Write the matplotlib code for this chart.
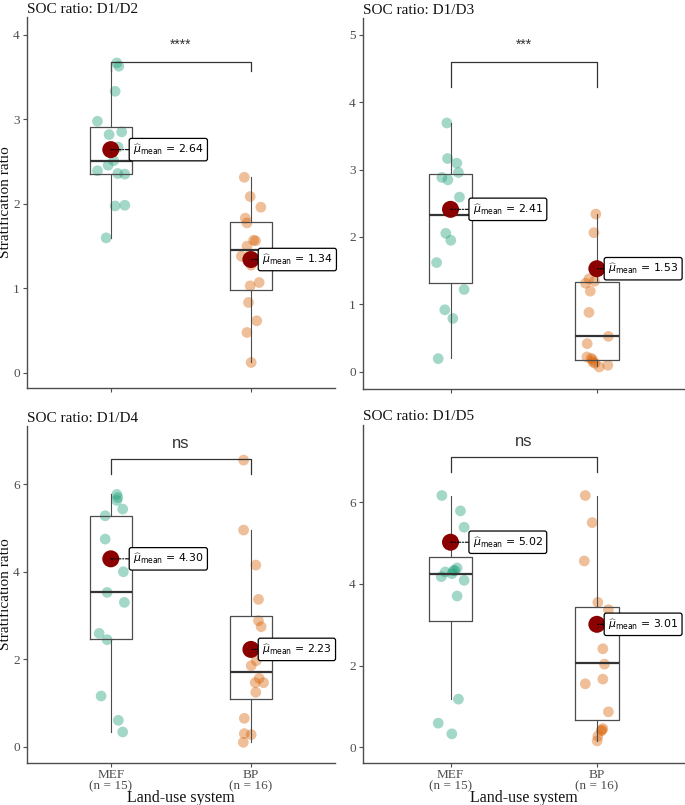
import numpy as np
import matplotlib
matplotlib.use("Agg")
import matplotlib.pyplot as plt

plt.rcParams['font.family'] = ['Liberation Serif', 'DejaVu Serif']
plt.rcParams['mathtext.fontset'] = 'dejavusans'

# ---- data ----
groups = ["MEF", "BP"]
group_n = [15, 16]
titles = ["SOC ratio: D1/D2", "SOC ratio: D1/D3", "SOC ratio: D1/D4", "SOC ratio: D1/D5"]
signif = ["****", "***", "ns", "ns"]

# D1/D2
d2_mef = [3.665, 3.626, 3.33, 2.975, 2.818, 2.85, 2.67, 2.51, 2.455, 2.39, 2.357, 2.35, 1.974, 1.982, 1.596]
d2_mef_jit = [0.043, 0.057, 0.031, -0.095, -0.012, 0.078, 0.052, 0.021, -0.019, -0.095, 0.05, 0.1, 0.031, 0.1, -0.033]
d2_bp = [2.313, 2.085, 1.959, 1.829, 1.773, 1.568, 1.561, 1.498, 1.379, 1.273, 1.029, 1.068, 0.832, 0.615, 0.477, 0.122]
d2_bp_jit = [-0.047, -0.005, 0.071, -0.04, -0.028, 0.019, 0.033, -0.028, -0.068, 0.002, -0.005, 0.059, -0.017, 0.042, -0.028, 0.002]

# D1/D3
d3_mef = [3.69, 3.163, 3.094, 2.956, 2.882, 2.847, 2.591, 2.40, 2.054, 1.951, 1.621, 1.222, 0.921, 0.793, 0.197]
d3_mef_jit = [-0.025, -0.02, 0.043, 0.054, -0.059, -0.018, 0.061, 0.0, -0.032, 0.002, -0.095, 0.093, -0.039, 0.016, -0.084]
d3_bp = [2.34, 2.064, 1.379, 1.345, 1.315, 1.197, 0.882, 0.527, 0.419, 0.222, 0.202, 0.18, 0.148, 0.128, 0.099, 0.074]
d3_bp_jit = [-0.007, -0.02, -0.054, -0.016, -0.077, -0.045, -0.054, 0.079, -0.066, -0.068, -0.039, -0.03, -0.027, -0.013, 0.075, 0.016]

# D1/D4
d4_mef = [5.772, 5.70, 5.635, 5.437, 5.284, 4.751, 4.30, 4.005, 3.533, 3.305, 2.596, 2.452, 1.165, 0.609, 0.343]
d4_mef_jit = [0.043, 0.05, 0.043, 0.085, -0.04, -0.04, 0.0, 0.09, -0.026, 0.097, -0.083, -0.026, -0.069, 0.054, 0.085]
d4_bp = [6.556, 4.957, 4.157, 3.373, 2.886, 2.749, 1.972, 1.858, 1.569, 1.47, 1.47, 1.249, 0.655, 0.305, 0.282, 0.107]
d4_bp_jit = [-0.052, -0.052, 0.035, 0.054, 0.054, 0.073, 0.038, 0.002, 0.059, 0.031, 0.09, 0.035, -0.047, -0.047, 0.002, -0.054]

# D1/D5
d5_mef = [6.164, 5.788, 5.387, 5.02, 4.39, 4.324, 4.292, 4.33, 4.177, 4.087, 3.703, 1.177, 0.589, 0.327, 4.25]
d5_mef_jit = [-0.059, 0.068, 0.093, 0.0, 0.045, 0.02, -0.036, 0.03, -0.063, 0.093, 0.045, 0.054, -0.084, 0.009, 0.01]
d5_bp = [6.164, 5.501, 4.561, 3.548, 3.368, 3.01, 2.411, 2.035, 1.668, 1.553, 0.867, 0.458, 0.42, 0.401, 0.27, 0.155]
d5_bp_jit = [-0.079, -0.032, -0.086, 0.007, 0.079, 0.0, 0.041, 0.052, 0.041, -0.079, 0.079, 0.041, 0.035, 0.029, 0.007, 0.002]

# box stats: q1, median, q3, whisker low, whisker high
box_mef = [(2.357, 2.51, 2.905, 1.596, 3.67), (1.325, 2.33, 2.936, 0.207, 3.69),
           (2.467, 3.548, 5.284, 0.35, 5.772), (3.098, 4.243, 4.651, 1.177, 6.164)]
box_bp = [(0.985, 1.45, 1.789, 0.122, 2.313), (0.172, 0.527, 1.335, 0.09, 2.34),
          (1.096, 1.72, 2.993, 0.107, 4.957), (0.678, 2.06, 3.441, 0.155, 6.164)]
means_mef = [2.64, 2.41, 4.30, 5.02]
means_bp = [1.34, 1.53, 2.23, 3.01]

panels = [(d2_mef, d2_mef_jit, d2_bp, d2_bp_jit),
          (d3_mef, d3_mef_jit, d3_bp, d3_bp_jit),
          (d4_mef, d4_mef_jit, d4_bp, d4_bp_jit),
          (d5_mef, d5_mef_jit, d5_bp, d5_bp_jit)]

# ---- layout ----
ylims = [(-0.18, 4.21), (-0.25, 5.25), (-0.36, 7.33), (-0.38, 7.9)]
yticks = [[0, 1, 2, 3, 4], [0, 1, 2, 3, 4, 5], [0, 2, 4, 6], [0, 2, 4, 6]]
brackets = [(3.673, 3.567, 3.88), (4.591, 4.227, 4.85), (6.579, 6.236, 6.94), (7.104, 6.752, 7.49)]
rects = [[0.039, 0.518, 0.450, 0.461], [0.5295, 0.517, 0.470, 0.461],
         [0.039, 0.0525, 0.450, 0.418], [0.5295, 0.0525, 0.470, 0.420]]

colors = ["#1b9e77", "#d95f02"]
grey = "#4d4d4d"

fig = plt.figure(figsize=(6.85, 8.05), dpi=100)

for i in range(4):
    ax = fig.add_axes(rects[i])
    mef, mef_j, bp, bp_j = panels[i]
    xs = [1, 2]
    for x, vals, jit, c in [(1, mef, mef_j, colors[0]), (2, bp, bp_j, colors[1])]:
        ax.scatter(x + np.array(jit), vals, s=60, color=c, alpha=0.4,
                   edgecolors='none', zorder=2)

    stats = []
    for b in (box_mef[i], box_bp[i]):
        q1, med, q3, lo, hi = b
        stats.append(dict(q1=q1, med=med, q3=q3, whislo=lo, whishi=hi, fliers=[]))
    ax.bxp(stats, positions=xs, widths=0.3, showcaps=False, showfliers=False,
           boxprops=dict(color=grey, lw=0.9),
           whiskerprops=dict(color=grey, lw=0.8),
           medianprops=dict(color="#333333", lw=1.6), zorder=3)

    for x, m, off in [(1, means_mef[i], 16), (2, means_bp[i], 8)]:
        ax.scatter([x], [m], s=150, color="#8b0000", zorder=4, edgecolors='none')
        ax.annotate(r"$\widehat{\mu}_{\mathrm{mean}}$" + " = {:.2f}".format(m),
                    xy=(x, m), xytext=(off, 0), textcoords='offset points',
                    ha='left', va='center', fontsize=7.8, family='DejaVu Sans',
                    bbox=dict(boxstyle='round,pad=0.35,rounding_size=0.2',
                              fc='white', ec='black', lw=0.9),
                    arrowprops=dict(arrowstyle='-', color='black', lw=0.8,
                                    linestyle=(0, (3, 1.5, 1, 1.5)),
                                    shrinkA=0, shrinkB=0),
                    zorder=5)

    top, tick, ty = brackets[i]
    ax.plot([1, 1, 2, 2], [tick, top, top, tick], color="#333333", lw=0.9)
    if signif[i] == "ns":
        ax.text(1.5, ty, signif[i], ha='center', va='center', fontsize=12,
                family='Liberation Sans', color="#333333")
    else:
        ax.text(1.5, ty, signif[i], ha='center', va='center', fontsize=10,
                family='Liberation Sans', color="#333333")

    ax.set_xlim(0.4, 2.6)
    ax.set_ylim(*ylims[i])
    ax.set_yticks(yticks[i])
    ax.set_xticks(xs)
    for s in ['top', 'right']:
        ax.spines[s].set_visible(False)
    for s in ['left', 'bottom']:
        ax.spines[s].set_color(grey)
        ax.spines[s].set_linewidth(1.0)
    ax.tick_params(colors=grey, labelsize=9.5, length=3, width=0.8)
    ax.tick_params(axis='x', pad=1.5)
    ax.tick_params(axis='y', pad=2)
    ax.set_title(titles[i], loc='left', fontsize=11, pad=3, color="#111111")

    if i >= 2:
        ax.set_xticklabels(["{}\n(n = {})".format(g, n) for g, n in zip(groups, group_n)],
                           linespacing=0.9)
        ax.set_xlabel("Land-use system", fontsize=11.5, color="#111111", va='center')
        ax.xaxis.set_label_coords(0.5, -0.104)
    else:
        ax.set_xticklabels([])
    if i % 2 == 0:
        ax.set_ylabel("Stratification ratio", fontsize=11, color="#111111", va='center')
        ax.yaxis.set_label_coords(-0.069, 0.5)

fig.savefig("out.png", dpi=100)
